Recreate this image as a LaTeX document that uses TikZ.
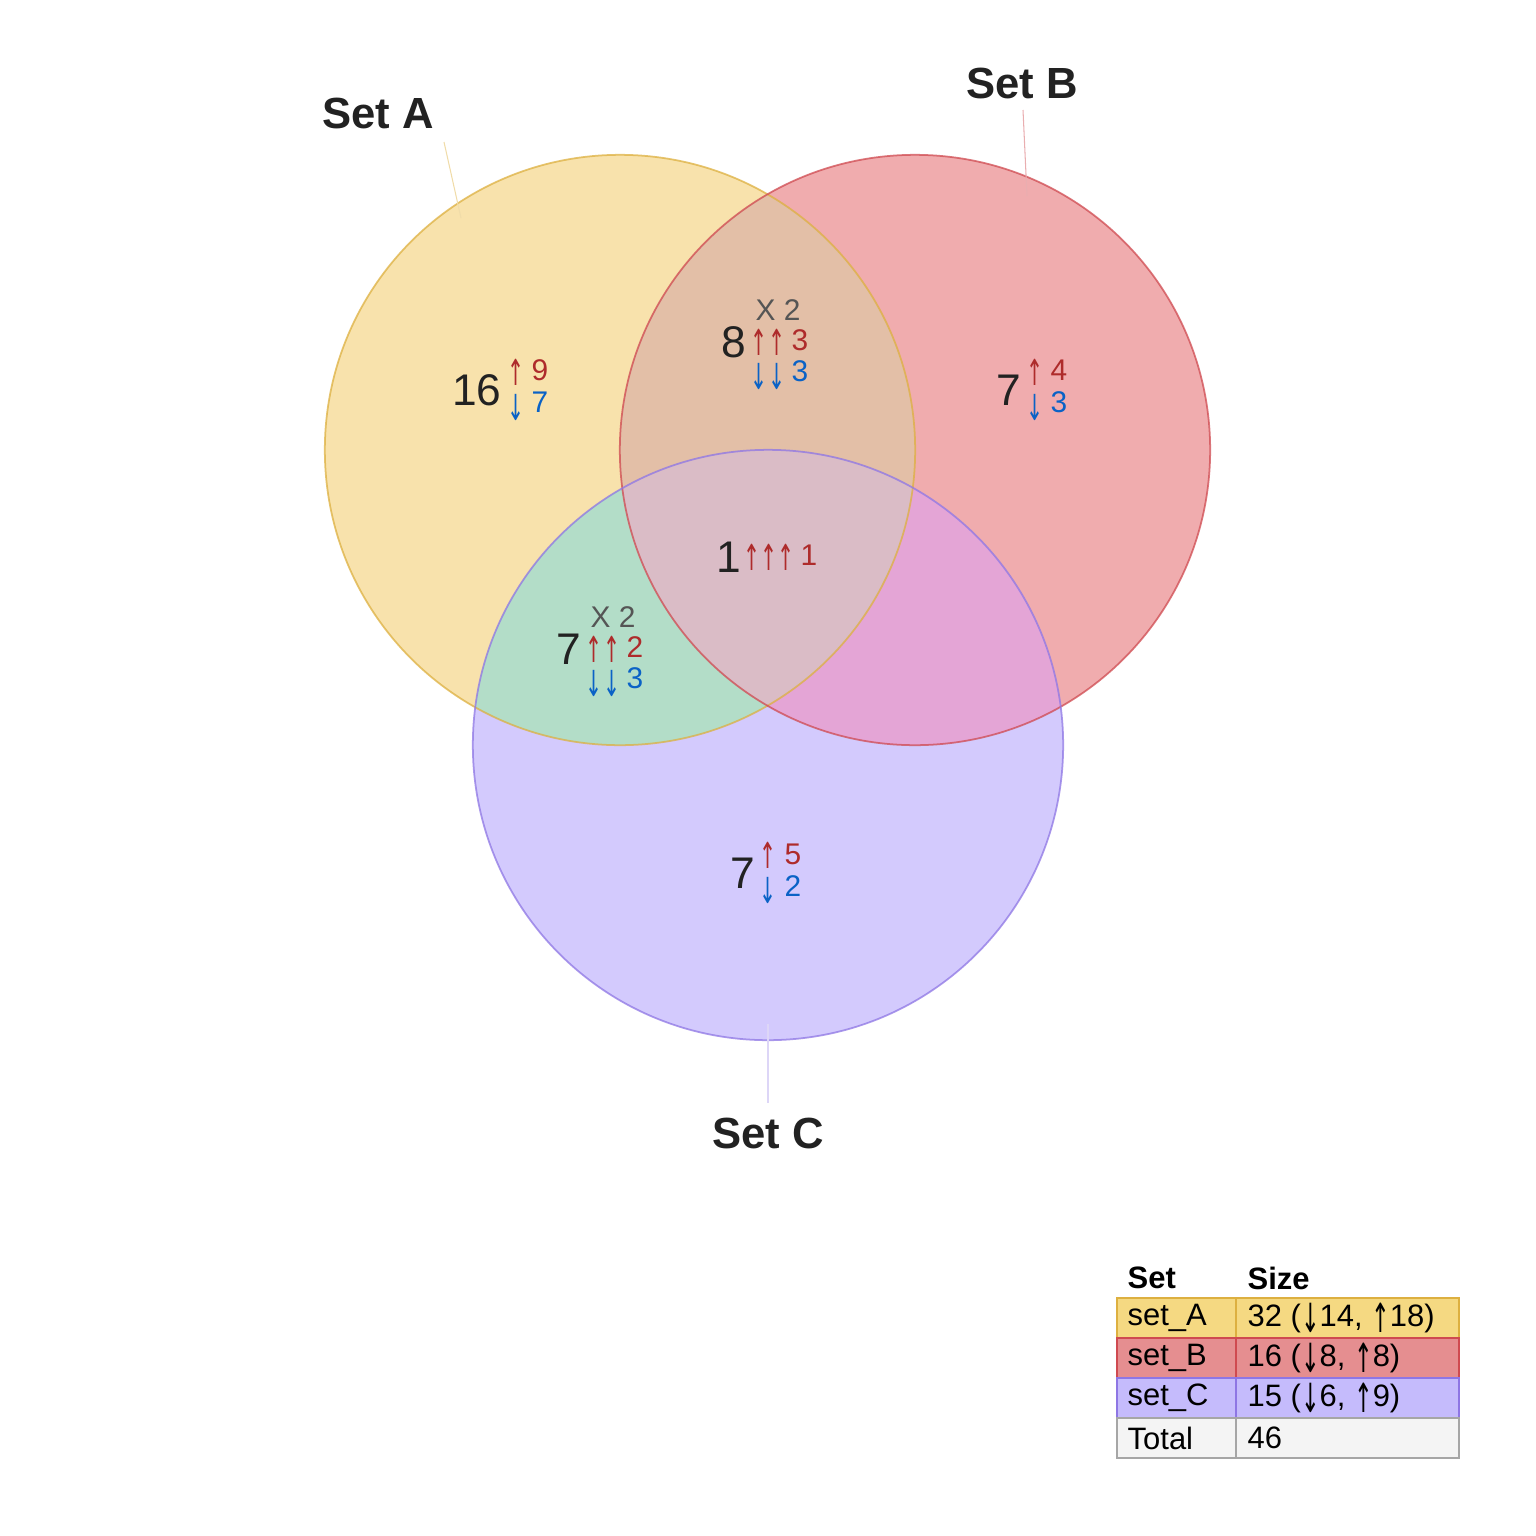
\documentclass[tikz,border=0pt]{standalone}
\usepackage{fontspec}
\setmainfont{Liberation Sans}
\newfontfamily\arrowfont{DejaVu Sans}
\usepackage{xcolor}
\usepackage{graphicx}

\definecolor{fillA}{HTML}{F8E2AC}
\definecolor{fillB}{HTML}{F0ACAE}
\definecolor{fillC}{HTML}{D3CAFD}
\definecolor{fillAB}{HTML}{E3BFA7}
\definecolor{fillAC}{HTML}{B3DDC8}
\definecolor{fillBC}{HTML}{E4A5D6}
\definecolor{fillABC}{HTML}{DABCC6}
\definecolor{lineA}{HTML}{DDB040}
\definecolor{lineB}{HTML}{CF4A50}
\definecolor{lineC}{HTML}{8E76E4}
\definecolor{upred}{HTML}{AE2B2B}
\definecolor{dnblue}{HTML}{0A62C6}
\definecolor{numblack}{HTML}{222222}
\definecolor{xgray}{HTML}{555555}
\definecolor{rowA}{HTML}{F5D982}
\definecolor{rowB}{HTML}{E58E90}
\definecolor{rowC}{HTML}{C5BBFC}
\definecolor{rowT}{HTML}{F4F4F4}

% tall thin arrows
\newcommand{\tallarr}[1]{{\arrowfont\scalebox{0.68}[1.2]{#1}}}
\newcommand{\tabarr}[1]{\raisebox{-0.2em}{\arrowfont\scalebox{0.72}[1.3]{#1}}}

\begin{document}
\begin{tikzpicture}[x=0.01cm,y=-0.01cm,every node/.style={inner sep=0pt},
  bignum/.style={font=\fontsize{12.6}{14}\selectfont,text=numblack},
  upnum/.style={font=\fontsize{8.5}{10}\selectfont,text=upred},
  dnnum/.style={font=\fontsize{8.5}{10}\selectfont,text=dnblue},
  xnum/.style={font=\fontsize{8.5}{10}\selectfont,text=xgray},
  setlabel/.style={font=\fontsize{12.4}{14}\selectfont\bfseries,text=numblack},
  cell/.style={font=\fontsize{8.8}{10}\selectfont,anchor=west},
  head/.style={font=\fontsize{8.8}{10}\selectfont\bfseries,anchor=west}]
\useasboundingbox (0,0) rectangle (1536,1536);
\def\rad{2.95cm}
\coordinate (cA) at (620,450);
\coordinate (cB) at (915,450);
\coordinate (cC) at (768,745);

% single sets
\fill[fillA] (cA) circle[radius=\rad];
\fill[fillB] (cB) circle[radius=\rad];
\fill[fillC] (cC) circle[radius=\rad];
% pairwise overlaps
\begin{scope}
\clip (cA) circle[radius=\rad];
\fill[fillAB] (cB) circle[radius=\rad];
\fill[fillAC] (cC) circle[radius=\rad];
\end{scope}
\begin{scope}
\clip (cB) circle[radius=\rad];
\fill[fillBC] (cC) circle[radius=\rad];
\end{scope}
% triple overlap
\begin{scope}
\clip (cA) circle[radius=\rad];
\clip (cB) circle[radius=\rad];
\fill[fillABC] (cC) circle[radius=\rad];
\end{scope}
% outlines
\draw[lineA,line width=0.5pt,draw opacity=0.75] (cA) circle[radius=\rad];
\draw[lineB,line width=0.5pt,draw opacity=0.75] (cB) circle[radius=\rad];
\draw[lineC,line width=0.5pt,draw opacity=0.75] (cC) circle[radius=\rad];

% set labels
\node[setlabel] (labA) at (378,113) {Set A};
\node[setlabel] (labB) at (1022,83) {Set B};
\node[setlabel] (labC) at (768,1133) {Set C};
\coordinate (tA1) at (444,142);
\coordinate (tA2) at (461,218);
\coordinate (tB1) at (1023,110);
\coordinate (tB2) at (1027,196);
\coordinate (tC1) at (768,1024);
\coordinate (tC2) at (768,1103);
\draw[lineA!45,line width=0.3pt] (tA1) -- (tA2);
\draw[lineB!45,line width=0.3pt] (tB1) -- (tB2);
\draw[lineC!30,line width=0.3pt] (tC1) -- (tC2);

% A only
\node[bignum] (nA) at (477,390) {16};
\node[upnum] (uA) at (516,372) {\tallarr{↑}};
\node[dnnum] (dA) at (516,407) {\tallarr{↓}};
\node[upnum] (uAn) at (540,370) {9};
\node[dnnum] (dAn) at (540,402) {7};
% B only
\node[bignum] (nB) at (1009,390) {7};
\node[upnum] (uB) at (1035,372) {\tallarr{↑}};
\node[dnnum] (dB) at (1035,407) {\tallarr{↓}};
\node[upnum] (uBn) at (1059,370) {4};
\node[dnnum] (dBn) at (1059,402) {3};
% C only
\node[bignum] (nC) at (743,873) {7};
\node[upnum] (uC) at (768,855) {\tallarr{↑}};
\node[dnnum] (dC) at (768,890) {\tallarr{↓}};
\node[upnum] (uCn) at (793,854) {5};
\node[dnnum] (dCn) at (793,886) {2};
% A and B
\node[xnum] (xAB) at (778,310) {X 2};
\node[bignum] (nAB) at (734,342) {8};
\node[upnum] (uAB) at (768,342) {\tallarr{↑↑}};
\node[upnum] (uABn) at (800,340) {3};
\node[dnnum] (dAB) at (768,376) {\tallarr{↓↓}};
\node[dnnum] (dABn) at (800,371) {3};
% A and C
\node[xnum] (xAC) at (613,617) {X 2};
\node[bignum] (nAC) at (569,649) {7};
\node[upnum] (uAC) at (603,649) {\tallarr{↑↑}};
\node[upnum] (uACn) at (635,647) {2};
\node[dnnum] (dAC) at (603,683) {\tallarr{↓↓}};
\node[dnnum] (dACn) at (635,678) {3};
% A, B and C
\node[bignum] (nABC) at (729,557) {1};
\node[upnum] (uABC) at (769,557) {\tallarr{↑↑↑}};
\node[upnum] (uABCn) at (809,555) {1};

% size table
\node[head] (hSet) at (1127,1278) {Set};
\node[head] (hSize) at (1247,1278) {Size};
\fill[rowA] (1117,1298) rectangle (1459,1338);
\draw[lineA,line width=0.4pt] (1117,1298) rectangle (1236,1338);
\draw[lineA,line width=0.4pt] (1236,1298) rectangle (1459,1338);
\node[cell] (tA) at (1127,1318) {set\_A};
\node[cell] (sA) at (1247,1318) {32 (\tabarr{↓}14, \tabarr{↑}18)};
\fill[rowB] (1117,1338) rectangle (1459,1378);
\draw[lineB,line width=0.4pt] (1117,1338) rectangle (1236,1378);
\draw[lineB,line width=0.4pt] (1236,1338) rectangle (1459,1378);
\node[cell] (tB) at (1127,1358) {set\_B};
\node[cell] (sB) at (1247,1358) {16 (\tabarr{↓}8, \tabarr{↑}8)};
\fill[rowC] (1117,1378) rectangle (1459,1418);
\draw[lineC,line width=0.4pt] (1117,1378) rectangle (1236,1418);
\draw[lineC,line width=0.4pt] (1236,1378) rectangle (1459,1418);
\node[cell] (tC) at (1127,1398) {set\_C};
\node[cell] (sC) at (1247,1398) {15 (\tabarr{↓}6, \tabarr{↑}9)};
\fill[rowT] (1117,1418) rectangle (1459,1458);
\draw[gray!70,line width=0.4pt] (1117,1418) rectangle (1236,1458);
\draw[gray!70,line width=0.4pt] (1236,1418) rectangle (1459,1458);
\node[cell] (tT) at (1127,1438) {Total};
\node[cell] (sT) at (1247,1438) {46};
\end{tikzpicture}
\end{document}
